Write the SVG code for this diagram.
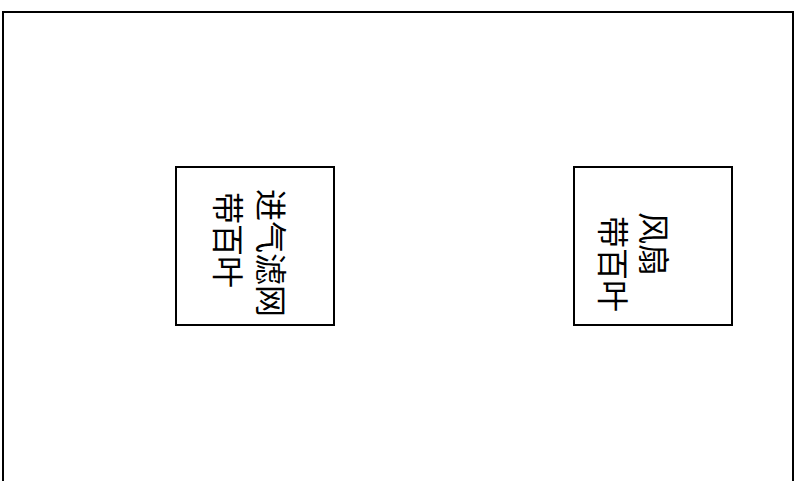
<svg xmlns="http://www.w3.org/2000/svg" width="794" height="481" viewBox="0 0 794 481">
<style>
.box{fill:#fff;stroke:#000;stroke-width:2}
.frame{fill:none;stroke:#000;stroke-width:2}
.lbl{font-family:"Noto Sans CJK SC","Noto Sans",sans-serif;font-size:32px;fill:#000;dominant-baseline:central}
</style>
<rect class="frame" x="3" y="12" width="790" height="480"/>
<g id="connectors"/>
<g id="node-intake">
<rect class="box" x="176" y="167" width="158" height="158"/>
<text class="lbl" transform="translate(273,189) rotate(90)">进气滤网</text>
<text class="lbl" transform="translate(230,192) rotate(90)">带百叶</text>
</g>
<g id="node-fan">
<rect class="box" x="574" y="167" width="158" height="158"/>
<text class="lbl" transform="translate(656,212) rotate(90)">风扇</text>
<text class="lbl" transform="translate(615,216) rotate(90)">带百叶</text>
</g>
</svg>
